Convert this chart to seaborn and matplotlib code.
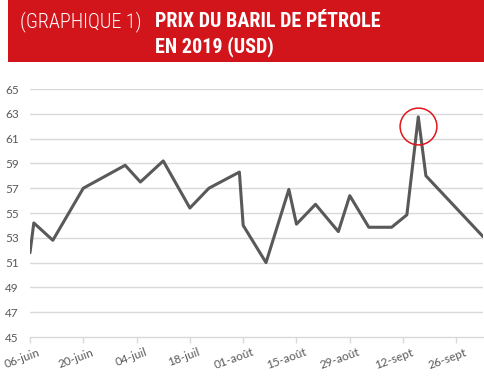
import matplotlib
matplotlib.use("Agg")
import matplotlib.pyplot as plt
import matplotlib.dates as mdates
from matplotlib.patches import Rectangle
from matplotlib.transforms import ScaledTranslation
import pandas as pd
import seaborn as sns

# prix du baril (USD)
dates = ["2019-06-06", "2019-06-07", "2019-06-12", "2019-06-20", "2019-07-01",
         "2019-07-05", "2019-07-11", "2019-07-18", "2019-07-23", "2019-07-31",
         "2019-08-01", "2019-08-07", "2019-08-13", "2019-08-15", "2019-08-20",
         "2019-08-26", "2019-08-29", "2019-09-03", "2019-09-09", "2019-09-13",
         "2019-09-16", "2019-09-18", "2019-10-03"]
prix = [51.8, 54.2, 52.8, 57.0, 58.85,
        57.5, 59.2, 55.4, 57.0, 58.3,
        54.0, 51.0, 56.9, 54.1, 55.7,
        53.5, 56.4, 53.85, 53.85, 54.85,
        62.75, 58.0, 53.1]

tick_dates = ["2019-06-06", "2019-06-20", "2019-07-04", "2019-07-18", "2019-08-01",
              "2019-08-15", "2019-08-29", "2019-09-12", "2019-09-26"]
tick_labels = ["06-juin", "20-juin", "04-juil", "18-juil", "01-août",
               "15-août", "29-août", "12-sept", "26-sept"]
y_ticks = list(range(45, 66, 2))

pic_date = "2019-09-16"
pic_centre = 62.05

df = pd.DataFrame({"date": pd.to_datetime(dates), "prix": prix})

sns.set_style("white")
plt.rcParams['font.family'] = ['Lato', 'DejaVu Sans']

fig = plt.figure(figsize=(4.85, 3.86), dpi=100)
ax = fig.add_axes([30 / 485, 1 - 337 / 386, 453 / 485, 248 / 386])

grey = "#595959"
grid = "#d9d9d9"

sns.lineplot(data=df, x="date", y="prix", ax=ax, color=grey, linewidth=2.2)

# cercle rouge autour du pic
ax.plot([pd.Timestamp(pic_date)], [pic_centre], marker="o", markersize=26.5,
        markerfacecolor="none", markeredgecolor="#e0161c", markeredgewidth=1.1,
        linestyle="none")

ax.set_ylim(45, 65)
ax.set_xlim(pd.Timestamp("2019-06-06"), pd.Timestamp("2019-10-03"))
ax.set_yticks(y_ticks)
ax.set_xticks(pd.to_datetime(tick_dates))
ax.set_xticklabels(tick_labels, rotation=20, ha="right", rotation_mode="anchor")
ax.set_xlabel("")
ax.set_ylabel("")

for y in y_ticks:
    if y != 45:
        ax.axhline(y, color=grid, linewidth=1.0, zorder=0)

for s in ["top", "right", "left"]:
    ax.spines[s].set_visible(False)
ax.spines["bottom"].set_color(grid)
ax.spines["bottom"].set_linewidth(1.0)

ax.tick_params(axis="y", length=0, labelsize=8.5, labelcolor=grey, pad=8)
ax.tick_params(axis="x", length=4, color=grid, width=1.0, labelsize=8.5,
               labelcolor=grey, pad=3, direction="out", bottom=True)
for lab in ax.get_xticklabels():
    lab.set_transform(lab.get_transform() + ScaledTranslation(8 / 100, 0, fig.dpi_scale_trans))

# bandeau rouge du titre
title_font = ['Roboto Condensed', 'Roboto', 'DejaVu Sans']
fig.patches.append(Rectangle((8 / 485, 1 - 62 / 386), 1 - 8 / 485, 62 / 386,
                             transform=fig.transFigure, facecolor="#d2141b",
                             edgecolor="none", zorder=0))
fig.text(20 / 485, 1 - 27 / 386, "(GRAPHIQUE 1)", color="white", fontsize=14.5,
         fontweight="light", family=title_font, ha="left", va="baseline")
fig.text(155 / 485, 1 - 27 / 386, "PRIX DU BARIL DE PÉTROLE", color="white",
         fontsize=14.5, fontweight="bold", family=title_font, ha="left", va="baseline")
fig.text(155 / 485, 1 - 52 / 386, "EN 2019 (USD)", color="white",
         fontsize=14.5, fontweight="bold", family=title_font, ha="left", va="baseline")

fig.savefig("out.png", dpi=100)
